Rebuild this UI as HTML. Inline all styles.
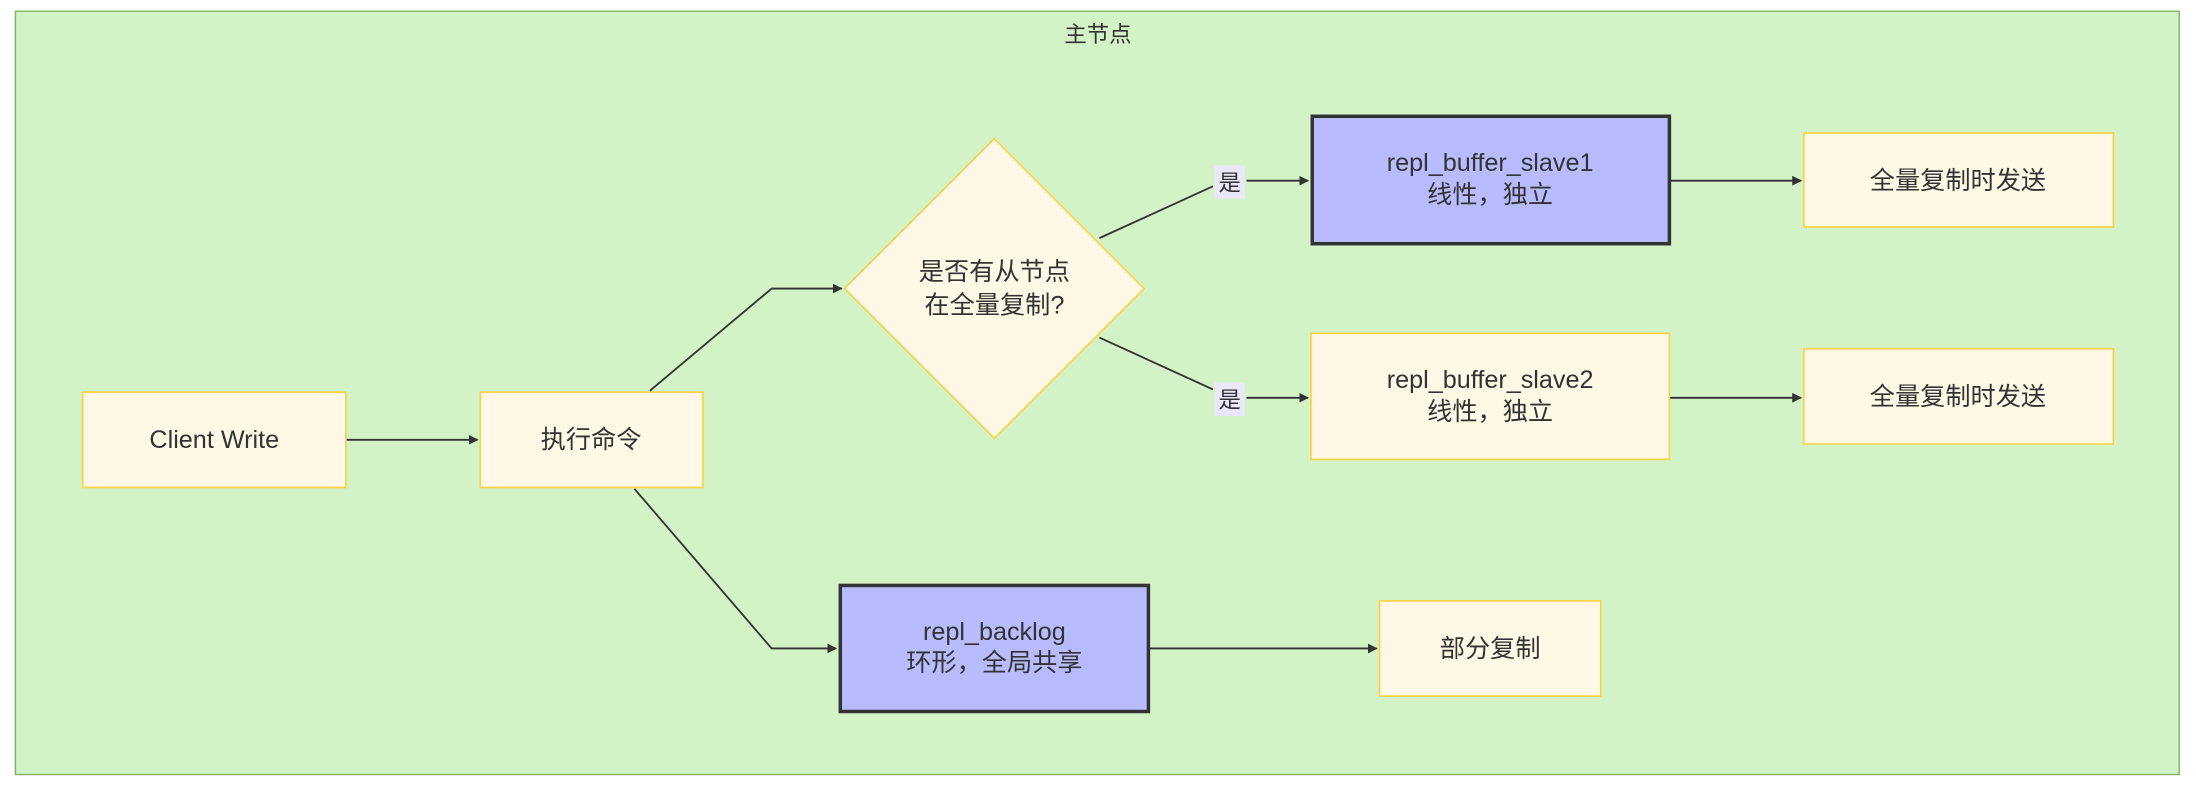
<!DOCTYPE html>
<html><head><meta charset="utf-8">
<style>
html,body{margin:0;padding:0;background:#fff;}
svg{display:block;}
text{font-family:"Liberation Sans","Noto Sans CJK SC",sans-serif;fill:#333;}
</style></head>
<body>
<svg width="2196" height="788" viewBox="0 0 1568 562.6" xmlns="http://www.w3.org/2000/svg">
<defs>
<marker id="a" viewBox="0 0 10 10" refX="9" refY="5" markerWidth="7" markerHeight="7" orient="auto" markerUnits="userSpaceOnUse">
<path d="M0,0 L10,5 L0,10 z" fill="#333"/>
</marker>
</defs>
<rect x="11" y="8" width="1545" height="545" fill="#d3f2c5" stroke="#82b366" stroke-width="1"/>
<text x="784" y="30" font-size="16" text-anchor="middle">主节点</text>

<g fill="none" stroke="#333" stroke-width="1.3">
<path d="M247,314 L341,314" marker-end="url(#a)"/>
<path d="M464,279 L551,206 L601,206" marker-end="url(#a)"/>
<path d="M453,349 L551,463 L597,463" marker-end="url(#a)"/>
<path d="M785,170 L866,133"/>
<path d="M890,129 L934,129" marker-end="url(#a)"/>
<path d="M785,241 L866,278"/>
<path d="M890,284 L934,284" marker-end="url(#a)"/>
<path d="M1192,129 L1286,129" marker-end="url(#a)"/>
<path d="M1192,284 L1286,284" marker-end="url(#a)"/>
<path d="M820,463 L983,463" marker-end="url(#a)"/>
</g>

<rect x="867" y="118" width="22" height="24" fill="#e8e8f8"/>
<text x="878" y="136" font-size="16" text-anchor="middle">是</text>
<rect x="867" y="273" width="22" height="24" fill="#e8e8f8"/>
<text x="878" y="291" font-size="16" text-anchor="middle">是</text>

<g stroke="#f8d24a" stroke-width="1.2" fill="#fff8e6">
<rect x="59" y="280" width="188" height="68"/>
<rect x="343" y="280" width="159" height="68"/>
<polygon points="710,99 817,206 710,313 603,206"/>
<rect x="936" y="238" width="256" height="90"/>
<rect x="1288" y="95" width="221" height="67"/>
<rect x="1288" y="249" width="221" height="68"/>
<rect x="985" y="429" width="158" height="68"/>
</g>
<g stroke="#333" stroke-width="2.5" fill="#b8bcff">
<rect x="937" y="83" width="255" height="91"/>
<rect x="600" y="418" width="220" height="90"/>
</g>

<g font-size="18" text-anchor="middle">
<text x="153" y="320">Client Write</text>
<text x="422" y="320">执行命令</text>
<text x="710" y="200">是否有从节点</text>
<text x="710" y="224">在全量复制?</text>
<text x="1064" y="122">repl_buffer_slave1</text>
<text x="1064" y="145">线性，独立</text>
<text x="1064" y="277">repl_buffer_slave2</text>
<text x="1064" y="300">线性，独立</text>
<text x="1398" y="135">全量复制时发送</text>
<text x="1398" y="289">全量复制时发送</text>
<text x="710" y="457">repl_backlog</text>
<text x="710" y="479">环形，全局共享</text>
<text x="1064" y="469">部分复制</text>
</g>
</svg>
</body></html>
